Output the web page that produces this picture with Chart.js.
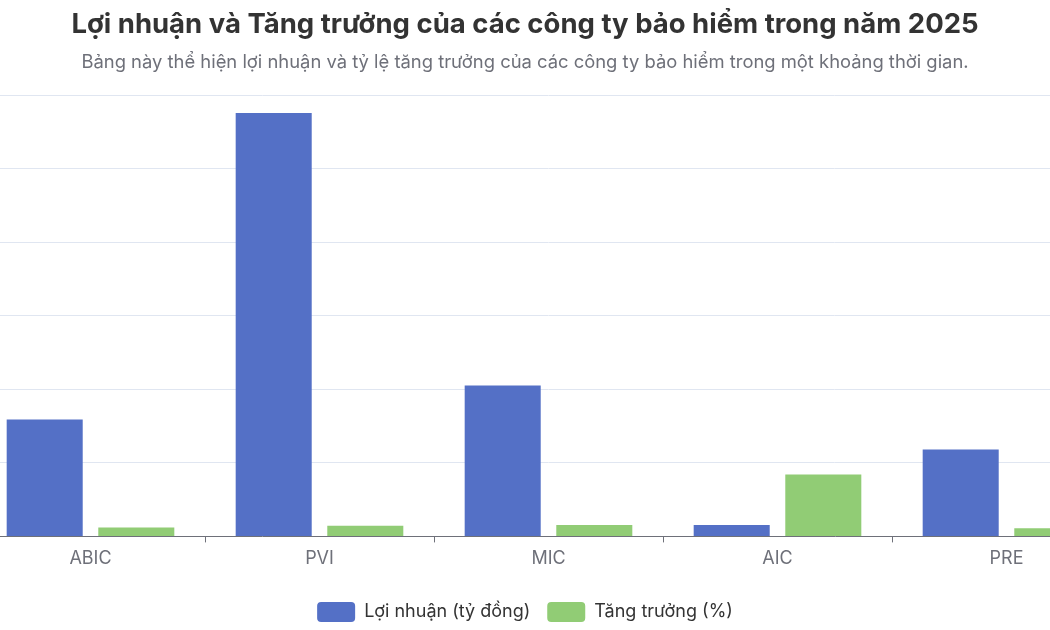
<!DOCTYPE html>
<html>
<head>
<meta charset="utf-8">
<script src="https://cdn.jsdelivr.net/npm/chart.js@4.4.1/dist/chart.umd.min.js"></script>
<style>
  html, body { margin:0; padding:0; background:#fff; overflow:hidden; width:1050px; height:630px; }
  #wrap { position:absolute; left:-100px; top:0; width:1250px; height:630px; }
</style>
</head>
<body>
<div id="wrap"><canvas id="c"></canvas></div>
<script>
const categories = ['ABIC', 'PVI', 'MIC', 'AIC', 'PRE'];
const profit = [318, 1151, 410, 31, 236];
const growth = [24, 29, 31, 168, 22];
const seriesNames = ['Lợi nhuận (tỷ đồng)', 'Tăng trưởng (%)'];
const titleText = 'Lợi nhuận và Tăng trưởng của các công ty bảo hiểm trong năm 2025';
const subtitleText = 'Bảng này thể hiện lợi nhuận và tỷ lệ tăng trưởng của các công ty bảo hiểm trong một khoảng thời gian.';

const FONT = 'Inter, "Noto Sans", sans-serif';

new Chart(document.getElementById('c'), {
  type: 'bar',
  data: {
    labels: categories,
    datasets: [
      { label: seriesNames[0], data: profit, backgroundColor: '#5470C6', borderColor: '#5470C6', borderWidth: 0 },
      { label: seriesNames[1], data: growth, backgroundColor: '#91CC75', borderColor: '#91CC75', borderWidth: 0 }
    ]
  },
  options: {
    responsive: true,
    maintainAspectRatio: false,
    animation: false,
    categoryPercentage: 0.8,
    barPercentage: 0.83,
    layout: { padding: { left: 29, right: 29, top: 0, bottom: -2 } },
    scales: {
      x: {
        grid: { drawOnChartArea: false, drawTicks: true, tickLength: 6, color: '#6E7079' },
        border: { display: true, color: '#6E7079', width: 1 },
        ticks: { color: '#6E7079', font: { family: FONT, size: 18 }, padding: 5 },
        afterFit: (scale) => { scale.height += 11; }
      },
      y: {
        min: 0, max: 1200,
        ticks: { display: false, stepSize: 200 },
        grid: { color: '#E0E6F1', drawTicks: false },
        border: { display: false },
        afterFit: (scale) => { scale.width = 47; }
      }
    },
    plugins: {
      title: {
        display: true, text: titleText, color: '#333333',
        font: { family: FONT, size: 27.5, weight: 'bold' },
        padding: { top: 8, bottom: 10 }
      },
      subtitle: {
        display: true, text: subtitleText, color: '#6E7079',
        font: { family: FONT, size: 18.4 },
        padding: { top: 0, bottom: 22 }
      },
      legend: {
        position: 'bottom',
        labels: {
          boxWidth: 38, boxHeight: 20, useBorderRadius: true, borderRadius: 4,
          color: '#333333', font: { family: FONT, size: 18 }, padding: 17
        }
      },
      tooltip: { enabled: false }
    }
  }
});
</script>
</body>
</html>
